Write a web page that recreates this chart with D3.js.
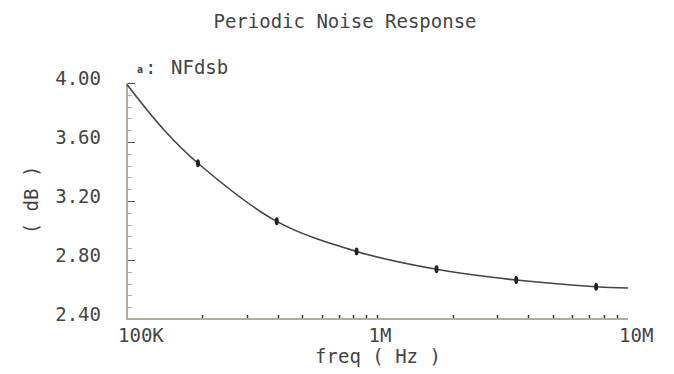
<!DOCTYPE html>
<html>
<head>
<meta charset="utf-8">
<script src="https://cdn.jsdelivr.net/npm/d3@7"></script>
<style>
  html, body { margin: 0; padding: 0; background: #fff; }
  svg { display: block; }
  text { font-family: "DejaVu Sans Mono", "Liberation Mono", monospace; fill: #444; }
</style>
</head>
<body>
<svg id="chart" width="674" height="374"></svg>
<script>
// ---- data ----
const title = "Periodic Noise Response";
const seriesName = "NFdsb";
const seriesTag = "a";
const xLabel = "freq ( Hz )";
const yLabel = "( dB )";

const curveFreq = [1e5, 1.4e5, 1.92e5, 3.96e5, 8.25e5, 1.72e6, 3.58e6, 7.46e6, 1e7];
const curveNF   = [3.99, 3.685, 3.456, 3.062, 2.858, 2.737, 2.664, 2.619, 2.61];

const markerFreq = [1.92e5, 3.96e5, 8.25e5, 1.72e6, 3.58e6, 7.46e6];
const markerNF   = [3.456, 3.062, 2.858, 2.737, 2.664, 2.619];

const yTicks = [2.4, 2.8, 3.2, 3.6, 4.0];
const yTickLabels = ["2.40", "2.80", "3.20", "3.60", "4.00"];
const xTicks = [1e5, 1e6, 1e7];
const xTickLabels = ["100K", "1M", "10M"];

// ---- layout ----
const svg = d3.select("#chart");
const x = d3.scaleLog().domain([1e5, 1e7]).range([127, 628]);
const y = d3.scaleLinear().domain([2.4, 4.0]).range([319, 83]);
const axisColor = "#b4ac98";

// title
svg.append("text").attr("x", 345).attr("y", 28).attr("text-anchor", "middle")
  .attr("font-size", 19).text(title);

// legend
svg.append("text").attr("x", 140).attr("y", 73).attr("text-anchor", "middle")
  .attr("font-size", 10).attr("font-weight", "bold").text(seriesTag);
svg.append("text").attr("x", 145).attr("y", 74).attr("font-size", 19).text(":");
svg.append("text").attr("x", 171).attr("y", 74).attr("font-size", 19).text(seriesName);

// minor y ticks (every 0.08)
const yMinor = d3.range(0, 21).map(i => 2.4 + i * 0.08);
svg.append("g").selectAll("line").data(yMinor).join("line")
  .attr("x1", x(1e5)).attr("x2", x(1e5) + 5)
  .attr("y1", d => Math.round(y(d)) + 0.5).attr("y2", d => Math.round(y(d)) + 0.5)
  .attr("stroke", axisColor).attr("stroke-width", 1);
// major y ticks
svg.append("g").selectAll("line").data(yTicks).join("line")
  .attr("x1", x(1e5)).attr("x2", x(1e5) + 8)
  .attr("y1", d => Math.round(y(d)) + 0.5).attr("y2", d => Math.round(y(d)) + 0.5)
  .attr("stroke", "#555").attr("stroke-width", 1);

// x minor ticks
const xMinor = [];
[1e5, 1e6].forEach(dec => { for (let k = 2; k <= 9; k++) xMinor.push(k * dec); });
svg.append("g").selectAll("line").data(xMinor.concat([1e6])).join("line")
  .attr("x1", d => Math.round(x(d)) + 0.5).attr("x2", d => Math.round(x(d)) + 0.5)
  .attr("y1", y(2.4)).attr("y2", y(2.4) - 4)
  .attr("stroke", "#333").attr("stroke-width", 1.5);

// axis lines
svg.append("line").attr("x1", x(1e5)).attr("x2", x(1e5))
  .attr("y1", y(4.0)).attr("y2", y(2.4) + 1)
  .attr("stroke", axisColor).attr("stroke-width", 2);
svg.append("line").attr("x1", x(1e5)).attr("x2", x(1e7))
  .attr("y1", y(2.4)).attr("y2", y(2.4))
  .attr("stroke", axisColor).attr("stroke-width", 2);

// y tick labels
svg.append("g").selectAll("text").data(yTicks).join("text")
  .attr("x", 101).attr("y", d => y(d) + 1.5).attr("text-anchor", "end")
  .attr("font-size", 19).text((d, i) => yTickLabels[i]);

// x tick labels
svg.append("g").selectAll("text").data(xTicks).join("text")
  .attr("x", d => x(d) - 9).attr("y", 342)
  .attr("font-size", 19).text((d, i) => xTickLabels[i]);

// axis titles
svg.append("text").attr("x", 378).attr("y", 363).attr("text-anchor", "middle")
  .attr("font-size", 19).text(xLabel);
svg.append("text").attr("transform", "translate(38,200) rotate(-90)")
  .attr("text-anchor", "middle").attr("font-size", 19).text(yLabel);

// curve
const pts = curveFreq.map((f, i) => [x(f), y(curveNF[i])]);
svg.append("path").datum(pts)
  .attr("d", d3.line().curve(d3.curveCatmullRom.alpha(0.5)))
  .attr("fill", "none").attr("stroke", "#444").attr("stroke-width", 1.6);

// markers
svg.append("g").selectAll("ellipse").data(markerFreq).join("ellipse")
  .attr("cx", d => x(d)).attr("cy", (d, i) => y(markerNF[i]))
  .attr("rx", 2).attr("ry", 4)
  .attr("fill", "#222");
</script>
</body>
</html>
